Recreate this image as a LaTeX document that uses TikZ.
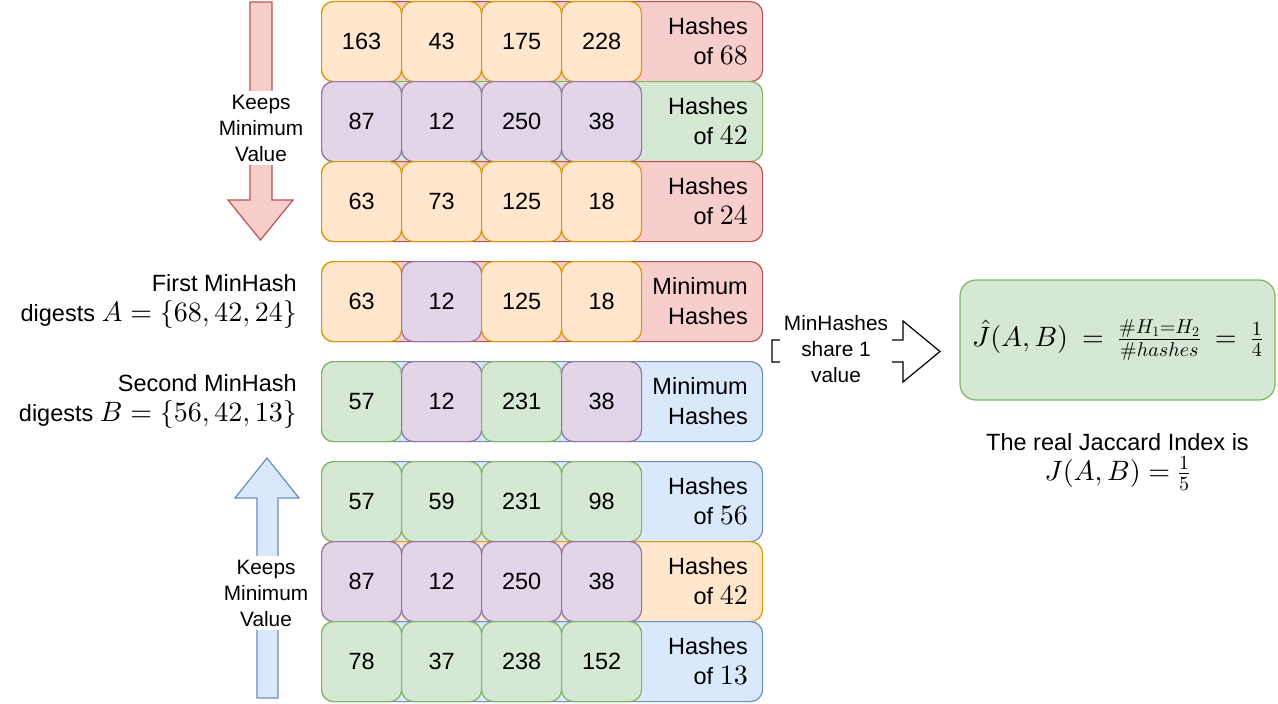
\documentclass[tikz,border=0pt]{standalone}
\usepackage[no-math]{fontspec}
\setmainfont{Liberation Sans}
\DeclareFontShape{OT1}{cmr}{m}{n}{<->cmr10}{}
\DeclareFontShape{OML}{cmm}{m}{it}{<->cmmi10}{}
\DeclareFontShape{OMS}{cmsy}{m}{n}{<->cmsy10}{}
\DeclareFontShape{OMX}{cmex}{m}{n}{<->cmex10}{}
\DeclareMathSizes{23.5}{28}{20}{14}
\definecolor{orF}{HTML}{FFE6CC}\definecolor{orD}{HTML}{D79B00}
\definecolor{puF}{HTML}{E1D5E7}\definecolor{puD}{HTML}{9673A6}
\definecolor{grF}{HTML}{D5E8D4}\definecolor{grD}{HTML}{82B366}
\definecolor{reF}{HTML}{F8CECC}\definecolor{reD}{HTML}{B85450}
\definecolor{blF}{HTML}{DAE8FC}\definecolor{blD}{HTML}{6C8EBF}
\newcommand{\mainfs}{\fontsize{23.5}{30}\selectfont}
\newcommand{\smallfs}{\fontsize{20.8}{26}\selectfont}
\begin{document}
\begin{tikzpicture}[x=1pt,y=-1pt,
  cell/.style={draw, rounded corners=12pt, minimum width=80pt, minimum height=80pt, line width=1.2pt, inner sep=0pt, anchor=north west, font=\mainfs},
  bgbox/.style={draw, rounded corners=12pt, minimum width=441pt, minimum height=80pt, line width=1.2pt, inner sep=0pt, anchor=north west},
  lab/.style={anchor=east, align=right, inner sep=0pt, font=\mainfs},
  orc/.style={fill=orF, draw=orD},
  puc/.style={fill=puF, draw=puD},
  grc/.style={fill=grF, draw=grD},
  rec/.style={fill=reF, draw=reD},
  blc/.style={fill=blF, draw=blD},
  keeplab/.style={fill=white, align=center, inner xsep=1pt, inner ysep=4pt, font=\smallfs}
]
\useasboundingbox (0,0) rectangle (1278,704);

% Row 1
\node[bgbox, rec] (r1) at (321,1) {};
\node[cell, orc] (r1a) at (321,1) {163};
\node[cell, orc] (r1b) at (401,1) {43};
\node[cell, orc] (r1c) at (481,1) {175};
\node[cell, orc] (r1d) at (561,1) {228};
\node[lab] (r1l) at (748,41) {Hashes\\of $68$};
% Row 2
\node[bgbox, grc] (r2) at (321,81) {};
\node[cell, puc] (r2a) at (321,81) {87};
\node[cell, puc] (r2b) at (401,81) {12};
\node[cell, puc] (r2c) at (481,81) {250};
\node[cell, puc] (r2d) at (561,81) {38};
\node[lab] (r2l) at (748,121) {Hashes\\of $42$};
% Row 3
\node[bgbox, rec] (r3) at (321,161) {};
\node[cell, orc] (r3a) at (321,161) {63};
\node[cell, orc] (r3b) at (401,161) {73};
\node[cell, orc] (r3c) at (481,161) {125};
\node[cell, orc] (r3d) at (561,161) {18};
\node[lab] (r3l) at (748,201) {Hashes\\of $24$};
% Row 4
\node[bgbox, rec] (r4) at (321,261) {};
\node[cell, orc] (r4a) at (321,261) {63};
\node[cell, puc] (r4b) at (401,261) {12};
\node[cell, orc] (r4c) at (481,261) {125};
\node[cell, orc] (r4d) at (561,261) {18};
\node[lab] (r4l) at (748,301) {Minimum\\Hashes};
% Row 5
\node[bgbox, blc] (r5) at (321,361) {};
\node[cell, grc] (r5a) at (321,361) {57};
\node[cell, puc] (r5b) at (401,361) {12};
\node[cell, grc] (r5c) at (481,361) {231};
\node[cell, puc] (r5d) at (561,361) {38};
\node[lab] (r5l) at (748,401) {Minimum\\Hashes};
% Row 6
\node[bgbox, blc] (r6) at (321,461) {};
\node[cell, grc] (r6a) at (321,461) {57};
\node[cell, grc] (r6b) at (401,461) {59};
\node[cell, grc] (r6c) at (481,461) {231};
\node[cell, grc] (r6d) at (561,461) {98};
\node[lab] (r6l) at (748,501) {Hashes\\of $56$};
% Row 7
\node[bgbox, orc] (r7) at (321,541) {};
\node[cell, puc] (r7a) at (321,541) {87};
\node[cell, puc] (r7b) at (401,541) {12};
\node[cell, puc] (r7c) at (481,541) {250};
\node[cell, puc] (r7d) at (561,541) {38};
\node[lab] (r7l) at (748,581) {Hashes\\of $42$};
% Row 8
\node[bgbox, blc] (r8) at (321,621) {};
\node[cell, grc] (r8a) at (321,621) {78};
\node[cell, grc] (r8b) at (401,621) {37};
\node[cell, grc] (r8c) at (481,621) {238};
\node[cell, grc] (r8d) at (561,621) {152};
\node[lab] (r8l) at (748,661) {Hashes\\of $13$};

% Down arrow (red)
\draw[rec, line width=1.2pt] (250,2) -- (272,2) -- (272,200) -- (293,200) -- (260.5,240) -- (228,200) -- (250,200) -- cycle;
\node[keeplab] (k1) at (261,128) {Keeps\\Minimum\\Value};
% Up arrow (blue)
\draw[blc, line width=1.2pt] (257,698) -- (278,698) -- (278,498) -- (299,498) -- (267,458) -- (235,498) -- (257,498) -- cycle;
\node[keeplab] (k2) at (266,593) {Keeps\\Minimum\\Value};

% Left labels
\node[lab] (first) at (297,301) {First MinHash\\digests $A=\{68,42,24\}$};
\node[lab] (second) at (297,401) {Second MinHash\\digests $B=\{56,42,13\}$};

% Block arrow
\draw[fill=white, draw=black, line width=1.2pt] (772,340) -- (903,340) -- (903,321) -- (940,351.5) -- (903,382) -- (903,362) -- (772,362) -- cycle;
\node[fill=white, align=center, inner xsep=4pt, inner ysep=0pt, font=\smallfs] (share) at (836,349) {MinHashes\\share 1\\value};

% Result
\node[draw=grD, fill=grF, rounded corners=16pt, line width=1.2pt, minimum width=315pt, minimum height=120pt, font=\mainfs] (res) at (1117.5,340) {$\hat{J}(A,B)\:=\:\frac{\#H_1=H_2}{\#hashes}\:=\:\frac{1}{4}$};
\node[align=center, inner sep=0pt, font=\mainfs] (real) at (1117.5,462) {The real Jaccard Index is\\$J(A,B)=\frac{1}{5}$};
\end{tikzpicture}
\end{document}
